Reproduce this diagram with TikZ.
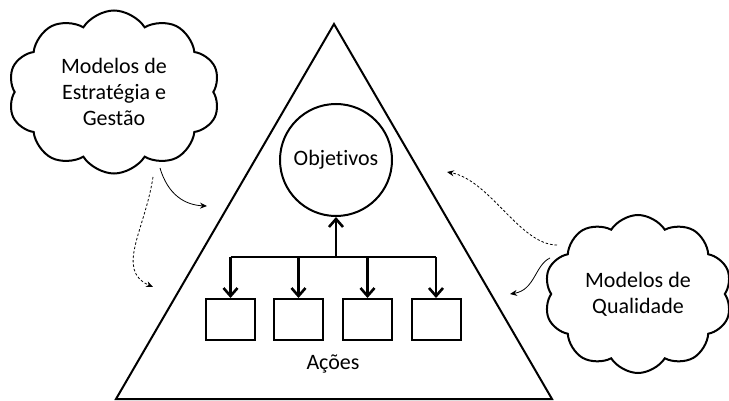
\documentclass[tikz,border=0pt]{standalone}
\usepackage{fontspec}
\setmainfont{Carlito}[Ligatures=NoCommon]
\usetikzlibrary{shapes.symbols,arrows.meta}

\begin{document}
\begin{tikzpicture}[x=1pt,y=-1pt,
        texto/.style={font=\fontsize{22}{26}\selectfont, align=center},
        nuvem/.style={cloud, cloud puffs=10, cloud puff arc=115, cloud ignores aspect, draw, line width=2pt, texto},
        caixa/.style={draw, line width=2pt, minimum width=49pt, minimum height=41pt},
        grossa/.style={line width=2.6pt, -{Straight Barb[length=8pt,width=14pt]}},
        seta/.style={line width=0.8pt, -{Stealth[length=7pt,width=6pt]}},
        tracejada/.style={dash pattern=on 2.5pt off 2pt}]
    \useasboundingbox (0,0) rectangle (729,401);
    \coordinate (topo) at (334,24);
    \coordinate (esq) at (116,399);
    \coordinate (dir) at (552,399);
    \draw[line width=2pt] (esq) -- (topo) -- (dir) -- cycle;
    \node[circle, draw, line width=2pt, minimum size=112pt, texto] (obj) at (336,160) {Objetivos};
    \foreach \x [count=\i] in {230.5, 298.5, 367.5, 436}
        \node[caixa] (acao\i) at (\x,319.5) {};
    \coordinate (barra) at (336,257);
    \draw[line width=2.6pt] (acao1.north |- barra) -- (acao4.north |- barra);
    \foreach \i in {1,...,4}
        \draw[grossa] (acao\i.north |- barra) -- (acao\i.north);
    \draw[grossa] (barra) -- (obj.south);
    \node[texto] (acoes) at (333,364) {Ações};
    \node[nuvem, minimum width=212pt, minimum height=163pt] (gestao) at (114,92) {Modelos de\\Estratégia e\\Gestão};
    \node[nuvem, minimum width=188pt, minimum height=158pt] (qualidade) at (638,294) {Modelos de\\Qualidade};
    \coordinate (g1) at (160,168);
    \coordinate (g2) at (207,206);
    \coordinate (g3) at (153,177);
    \coordinate (g4) at (153,287);
    \coordinate (q1) at (557,245);
    \coordinate (q2) at (447,172);
    \coordinate (q3) at (550,258);
    \coordinate (q4) at (510,294);
    \draw[seta] (g1) .. controls (168,195) and (185,205) .. (g2);
    \draw[seta, tracejada] (g3) .. controls (145,230) and (115,270) .. (g4);
    \draw[seta, tracejada] (q1) .. controls (520,245) and (490,180) .. (q2);
    \draw[seta] (q3) .. controls (535,265) and (535,290) .. (q4);
\end{tikzpicture}
\end{document}
